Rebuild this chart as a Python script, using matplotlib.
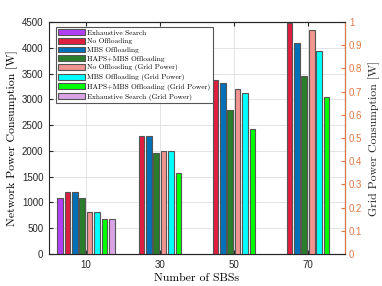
import numpy as np
import matplotlib
matplotlib.use('Agg')
import matplotlib.pyplot as plt
from matplotlib.patches import Patch

sbs = [10, 30, 50, 70]

# network power [W] (left axis)
exhaustive = [1080, np.nan, np.nan, np.nan]
no_off = [1195, 2285, 3375, 4490]
mbs_off = [1195, 2285, 3310, 4100]
haps_mbs = [1080, 1955, 2790, 3450]

# grid power [W] (right axis)
no_off_grid = [0.18, 0.445, 0.71, 0.966]
mbs_grid = [0.18, 0.445, 0.693, 0.875]
haps_grid = [0.15, 0.35, 0.539, 0.675]
exhaustive_grid = [0.15, np.nan, np.nan, np.nan]

labels = ['Exhaustive Search', 'No Offloading', 'MBS Offloading',
          'HAPS+MBS Offloading', 'No Offloading (Grid Power)',
          'MBS Offloading (Grid Power)', 'HAPS+MBS Offloading (Grid Power)',
          'Exhaustive Search (Grid Power)']
colors = ['#b040f5', '#e01e40', '#0070b8', '#2a7d2a',
          '#f29490', '#00ffff', '#00ff00', '#d9a3e6']

ORANGE = '#e07a45'
EDGE = '#555555'
SERIF = 'cmr10'
SANS = 'Liberation Sans'

fig = plt.figure(figsize=(3.82, 2.86), dpi=100)
ax = fig.add_axes([0.128, 0.112, 0.775, 0.811])
ax2 = ax.twinx()

x = np.array(sbs, dtype=float)
offsets = [-7, -5, -3, -1, 1, 3, 5, 7]
w = 1.55
left_series = [exhaustive, no_off, mbs_off, haps_mbs]
right_series = [no_off_grid, mbs_grid, haps_grid, exhaustive_grid]

for k, vals in enumerate(left_series):
    ax.bar(x + offsets[k], vals, width=w, color=colors[k],
           edgecolor=EDGE, linewidth=0.8, zorder=3)
for k, vals in enumerate(right_series):
    ax2.bar(x + offsets[k + 4], vals, width=w, color=colors[k + 4],
            edgecolor=EDGE, linewidth=0.8, zorder=3)

ax.set_xlim(0, 80)
ax.set_ylim(0, 4500)
ax2.set_ylim(0, 1)
ax.set_xticks(sbs)
ax.set_yticks(range(0, 4501, 500))
ax2.set_yticks(np.arange(0, 1.01, 0.1))
ax2.set_yticklabels(['0', '0.1', '0.2', '0.3', '0.4', '0.5',
                     '0.6', '0.7', '0.8', '0.9', '1'])

ax.set_axisbelow(True)
ax.grid(True, color='#e3e3e3', linewidth=0.7)

ax.tick_params(axis='both', direction='in', labelsize=7, length=3,
               colors='#262626', top=True, pad=4)
ax2.tick_params(axis='y', direction='in', labelsize=7, length=3,
                colors=ORANGE, pad=3)
for t in ax.get_xticklabels() + ax.get_yticklabels() + ax2.get_yticklabels():
    t.set_fontfamily(SANS)
for s in ['left', 'bottom', 'top']:
    ax.spines[s].set_color('#262626')
ax2.spines['right'].set_color(ORANGE)
ax2.spines['left'].set_visible(False)
ax2.spines['top'].set_color('#262626')
ax2.spines['bottom'].set_color('#262626')

ax.set_xlabel('Number of SBSs', fontfamily=SERIF, fontsize=8.5, labelpad=3)
ax.set_ylabel('Network Power Consumption [W]', fontfamily=SERIF, fontsize=8.5,
              labelpad=3)
ax2.set_ylabel('Grid Power Consumption [W]', fontfamily=SERIF, fontsize=8.5,
               labelpad=4, color='#262626')

handles = [Patch(facecolor=c, edgecolor=EDGE, linewidth=0.8) for c in colors]
leg = ax2.legend(handles, labels, loc='upper left', bbox_to_anchor=(0.02, 0.985),
                 prop={'family': SERIF, 'size': 5.3}, handlelength=3.6,
                 handleheight=0.85, handletextpad=0.3, labelspacing=0.3,
                 borderpad=0.3, borderaxespad=0.2, fancybox=False,
                 edgecolor='#555555', framealpha=1)
leg.get_frame().set_linewidth(0.8)

fig.savefig('out.png', dpi=100)
